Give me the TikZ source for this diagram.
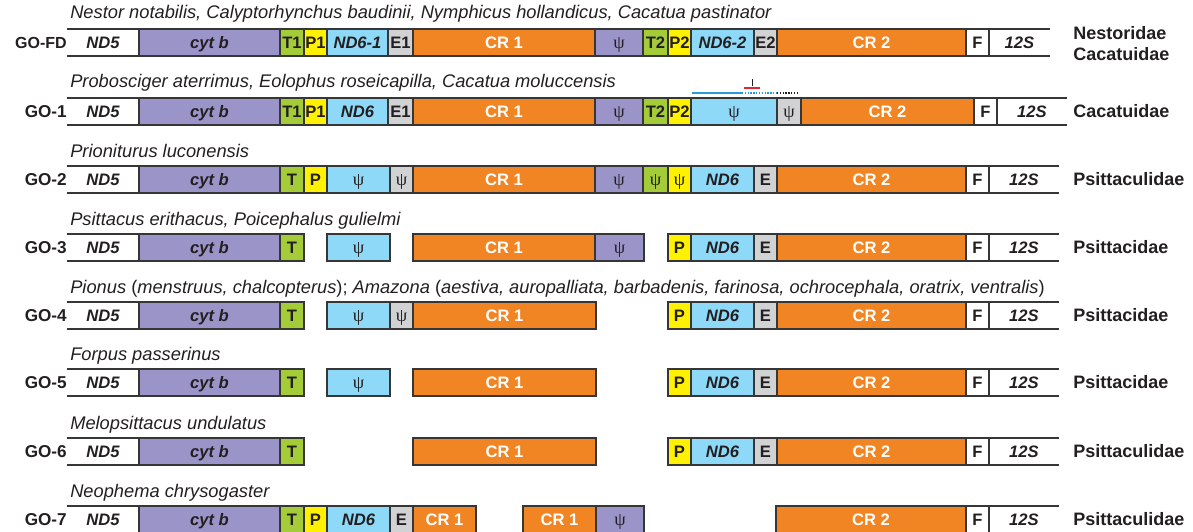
\documentclass[tikz,border=0pt]{standalone}
\usepackage{fontspec}
\setmainfont{Liberation Sans}
\newfontfamily\psifont{Liberation Serif}
\usepackage{tikz}
\usetikzlibrary{positioning, calc}
\definecolor{edge}{HTML}{363636}
\definecolor{ink}{HTML}{231F20}
\definecolor{cytpurple}{HTML}{9B94C9}
\definecolor{ndblue}{HTML}{8ED8F8}
\definecolor{tgreen}{HTML}{A4CC39}
\definecolor{pyellow}{HTML}{FFF100}
\definecolor{egray}{HTML}{D1D2D4}
\definecolor{crorange}{HTML}{F28523}
\definecolor{readblue}{HTML}{2B9BD7}
\definecolor{primred}{HTML}{E3262B}
\tikzset{
  box/.style={rectangle,draw=edge,line width=1.2pt,minimum height=.675cm,inner sep=0pt,outer sep=0pt,text height=8.4pt,text depth=0pt,text=ink,font=\fontsize{11.8}{12}\selectfont\bfseries},
  gene/.style={box,font=\fontsize{11.8}{12}\selectfont\bfseries\itshape},
  cytb/.style={gene,fill=cytpurple},
  nd6/.style={gene,fill=ndblue},
  trna/.style={box,fill=tgreen},
  pro/.style={box,fill=pyellow},
  glu/.style={box,fill=egray},
  phe/.style={box,fill=white},
  cr/.style={box,fill=crorange,text=white},
  bare/.style={gene,draw=none},
  psi/.style={font=\psifont\fontsize{13}{13}\selectfont},
  species/.style={anchor=base west,inner sep=0pt,text=ink,font=\fontsize{13}{14}\selectfont\itshape},
  group/.style={anchor=east,inner sep=0pt,text=ink,font=\fontsize{12.2}{13}\selectfont\bfseries},
  family/.style={anchor=west,align=left,inner sep=0pt,text=ink,font=\fontsize{12.8}{15}\selectfont\bfseries},
  openline/.style={draw=edge,line width=1.2pt},
}
\newcommand{\seg}[6]{\node[#2,minimum width={(#4-#3)*0.025cm},anchor=west] (#1) at (#3,#5) {#6};}
\newcommand{\flankseg}[5]{\node[bare,minimum width={(#3-#2)*0.025cm},anchor=west] (#1) at (#2,#4) {#5};
  \draw[openline] (#1.north west) -- (#1.north east) (#1.south west) -- (#1.south east);}
\begin{document}
\begin{tikzpicture}[x=0.025cm,y=-0.025cm]
	\useasboundingbox (0,0) rectangle (1193,532);

	\node[species] (sfd) at (70,19) {Nestor notabilis, Calyptorhynchus baudinii, Nymphicus hollandicus, Cacatua pastinator};
	\node[group,font=\fontsize{11.4}{13}\selectfont\bfseries] (gfd) at (67,42.5) {GO-FD};
	\flankseg{fd-nd5}{67}{139}{42.5}{ND5}
	\seg{fd-cytb}{cytb}{139}{280}{42.5}{cyt b}
	\seg{fd-t1}{trna}{280}{304}{42.5}{T1}
	\seg{fd-p1}{pro}{304}{327}{42.5}{P1}
	\seg{fd-nd6a}{nd6}{327}{388}{42.5}{ND6-1}
	\seg{fd-e1}{glu}{388}{413}{42.5}{E1}
	\seg{fd-cr1}{cr}{413}{595}{42.5}{CR 1}
	\seg{fd-psi}{cytb,psi}{595}{643}{42.5}{ψ}
	\seg{fd-t2}{trna}{643}{668}{42.5}{T2}
	\seg{fd-p2}{pro}{668}{691}{42.5}{P2}
	\seg{fd-nd6b}{nd6}{691}{754}{42.5}{ND6-2}
	\seg{fd-e2}{glu}{754}{777}{42.5}{E2}
	\seg{fd-cr2}{cr}{777}{966}{42.5}{CR 2}
	\seg{fd-f}{phe}{966}{989}{42.5}{F}
	\flankseg{fd-12s}{989}{1050}{42.5}{12S}
	\node[family] (ffd) at (1073,44) {Nestoridae\\Cacatuidae};

	\node[species] (s1) at (70,88) {Probosciger aterrimus, Eolophus roseicapilla, Cacatua moluccensis};
	\coordinate (rd-a) at (692,93);
	\coordinate (rd-b) at (742,93);
	\coordinate (rd-c) at (777,93);
	\coordinate (rd-d) at (798,93);
	\draw[readblue,line width=1pt] (rd-a) -- (rd-b);
	\draw[readblue,line width=1pt,densely dotted] (rd-b) -- (rd-c);
	\draw[ink,line width=1pt,densely dotted] (rd-c) -- (rd-d);
	\coordinate (pr-a) at (744,88);
	\coordinate (pr-b) at (760,88);
	\coordinate (pr-c) at (752,86);
	\coordinate (pr-d) at (752,79);
	\draw[primred,line width=1.3pt] (pr-a) -- (pr-b);
	\draw[ink,line width=.7pt] (pr-c) -- (pr-d);
	\node[group] (g1) at (67,111.5) {GO-1};
	\flankseg{g1-nd5}{67}{139}{111.5}{ND5}
	\seg{g1-cytb}{cytb}{139}{280}{111.5}{cyt b}
	\seg{g1-t1}{trna}{280}{304}{111.5}{T1}
	\seg{g1-p1}{pro}{304}{327}{111.5}{P1}
	\seg{g1-nd6}{nd6}{327}{388}{111.5}{ND6}
	\seg{g1-e1}{glu}{388}{413}{111.5}{E1}
	\seg{g1-cr1}{cr}{413}{595}{111.5}{CR 1}
	\seg{g1-psia}{cytb,psi}{595}{643}{111.5}{ψ}
	\seg{g1-t2}{trna}{643}{668}{111.5}{T2}
	\seg{g1-p2}{pro}{668}{691}{111.5}{P2}
	\seg{g1-psib}{nd6,psi}{691}{777}{111.5}{ψ}
	\seg{g1-psic}{glu,psi}{777}{801}{111.5}{ψ}
	\seg{g1-cr2}{cr}{801}{974}{111.5}{CR 2}
	\seg{g1-f}{phe}{974}{997}{111.5}{F}
	\flankseg{g1-12s}{997}{1067}{111.5}{12S}
	\node[family] (f1) at (1073,111.5) {Cacatuidae};

	\node[species] (s2) at (70,157) {Prioniturus luconensis};
	\node[group] (g2) at (67,179.5) {GO-2};
	\flankseg{g2-nd5}{67}{139}{179.5}{ND5}
	\seg{g2-cytb}{cytb}{139}{280}{179.5}{cyt b}
	\seg{g2-t}{trna}{280}{304}{179.5}{T}
	\seg{g2-p}{pro}{304}{327}{179.5}{P}
	\seg{g2-psia}{nd6,psi}{327}{390}{179.5}{ψ}
	\seg{g2-psib}{glu,psi}{390}{413}{179.5}{ψ}
	\seg{g2-cr1}{cr}{413}{595}{179.5}{CR 1}
	\seg{g2-psic}{cytb,psi}{595}{643}{179.5}{ψ}
	\seg{g2-psid}{trna,psi}{643}{668}{179.5}{ψ}
	\seg{g2-psie}{pro,psi}{668}{691}{179.5}{ψ}
	\seg{g2-nd6}{nd6}{691}{754}{179.5}{ND6}
	\seg{g2-e}{glu}{754}{777}{179.5}{E}
	\seg{g2-cr2}{cr}{777}{966}{179.5}{CR 2}
	\seg{g2-f}{phe}{966}{989}{179.5}{F}
	\flankseg{g2-12s}{989}{1059}{179.5}{12S}
	\node[family] (f2) at (1073,179.5) {Psittaculidae};

	\node[species] (s3) at (70,225) {Psittacus erithacus, Poicephalus gulielmi};
	\node[group] (g3) at (67,247.5) {GO-3};
	\flankseg{g3-nd5}{67}{139}{247.5}{ND5}
	\seg{g3-cytb}{cytb}{139}{280}{247.5}{cyt b}
	\seg{g3-t}{trna}{280}{304}{247.5}{T}
	\seg{g3-psia}{nd6,psi}{327}{390}{247.5}{ψ}
	\seg{g3-cr1}{cr}{413}{595}{247.5}{CR 1}
	\seg{g3-psib}{cytb,psi}{595}{644}{247.5}{ψ}
	\seg{g3-p}{pro}{668}{691}{247.5}{P}
	\seg{g3-nd6}{nd6}{691}{754}{247.5}{ND6}
	\seg{g3-e}{glu}{754}{777}{247.5}{E}
	\seg{g3-cr2}{cr}{777}{966}{247.5}{CR 2}
	\seg{g3-f}{phe}{966}{989}{247.5}{F}
	\flankseg{g3-12s}{989}{1059}{247.5}{12S}
	\node[family] (f3) at (1073,247.5) {Psittacidae};

	\node[species] (s4) at (70,293) {Pionus {\upshape(}menstruus, chalcopterus{\upshape);} Amazona {\upshape(}aestiva, auropalliata, barbadenis, farinosa, ochrocephala, oratrix, ventralis{\upshape)}};
	\node[group] (g4) at (67,315.5) {GO-4};
	\flankseg{g4-nd5}{67}{139}{315.5}{ND5}
	\seg{g4-cytb}{cytb}{139}{280}{315.5}{cyt b}
	\seg{g4-t}{trna}{280}{304}{315.5}{T}
	\seg{g4-psia}{nd6,psi}{327}{390}{315.5}{ψ}
	\seg{g4-psib}{glu,psi}{390}{413}{315.5}{ψ}
	\seg{g4-cr1}{cr}{413}{596}{315.5}{CR 1}
	\seg{g4-p}{pro}{668}{691}{315.5}{P}
	\seg{g4-nd6}{nd6}{691}{754}{315.5}{ND6}
	\seg{g4-e}{glu}{754}{777}{315.5}{E}
	\seg{g4-cr2}{cr}{777}{966}{315.5}{CR 2}
	\seg{g4-f}{phe}{966}{989}{315.5}{F}
	\flankseg{g4-12s}{989}{1059}{315.5}{12S}
	\node[family] (f4) at (1073,315.5) {Psittacidae};

	\node[species] (s5) at (70,360) {Forpus passerinus};
	\node[group] (g5) at (67,382.5) {GO-5};
	\flankseg{g5-nd5}{67}{139}{382.5}{ND5}
	\seg{g5-cytb}{cytb}{139}{280}{382.5}{cyt b}
	\seg{g5-t}{trna}{280}{304}{382.5}{T}
	\seg{g5-psia}{nd6,psi}{327}{390}{382.5}{ψ}
	\seg{g5-cr1}{cr}{413}{596}{382.5}{CR 1}
	\seg{g5-p}{pro}{668}{691}{382.5}{P}
	\seg{g5-nd6}{nd6}{691}{754}{382.5}{ND6}
	\seg{g5-e}{glu}{754}{777}{382.5}{E}
	\seg{g5-cr2}{cr}{777}{966}{382.5}{CR 2}
	\seg{g5-f}{phe}{966}{989}{382.5}{F}
	\flankseg{g5-12s}{989}{1059}{382.5}{12S}
	\node[family] (f5) at (1073,382.5) {Psittacidae};

	\node[species] (s6) at (70,429) {Melopsittacus undulatus};
	\node[group] (g6) at (67,451.5) {GO-6};
	\flankseg{g6-nd5}{67}{139}{451.5}{ND5}
	\seg{g6-cytb}{cytb}{139}{280}{451.5}{cyt b}
	\seg{g6-t}{trna}{280}{304}{451.5}{T}
	\seg{g6-cr1}{cr}{413}{596}{451.5}{CR 1}
	\seg{g6-p}{pro}{668}{691}{451.5}{P}
	\seg{g6-nd6}{nd6}{691}{754}{451.5}{ND6}
	\seg{g6-e}{glu}{754}{777}{451.5}{E}
	\seg{g6-cr2}{cr}{777}{966}{451.5}{CR 2}
	\seg{g6-f}{phe}{966}{989}{451.5}{F}
	\flankseg{g6-12s}{989}{1059}{451.5}{12S}
	\node[family] (f6) at (1073,451.5) {Psittaculidae};

	\node[species] (s7) at (70,497) {Neophema chrysogaster};
	\node[group] (g7) at (67,519.5) {GO-7};
	\flankseg{g7-nd5}{67}{139}{519.5}{ND5}
	\seg{g7-cytb}{cytb}{139}{280}{519.5}{cyt b}
	\seg{g7-t}{trna}{280}{304}{519.5}{T}
	\seg{g7-p}{pro}{304}{327}{519.5}{P}
	\seg{g7-nd6}{nd6}{327}{390}{519.5}{ND6}
	\seg{g7-e}{glu}{390}{413}{519.5}{E}
	\seg{g7-cr1a}{cr}{413}{476}{519.5}{CR 1}
	\seg{g7-cr1b}{cr}{523}{596}{519.5}{CR 1}
	\seg{g7-psi}{cytb,psi}{596}{644}{519.5}{ψ}
	\seg{g7-cr2}{cr}{776}{966}{519.5}{CR 2}
	\seg{g7-f}{phe}{966}{989}{519.5}{F}
	\flankseg{g7-12s}{989}{1059}{519.5}{12S}
	\node[family] (f7) at (1073,519.5) {Psittaculidae};
\end{tikzpicture}
\end{document}
